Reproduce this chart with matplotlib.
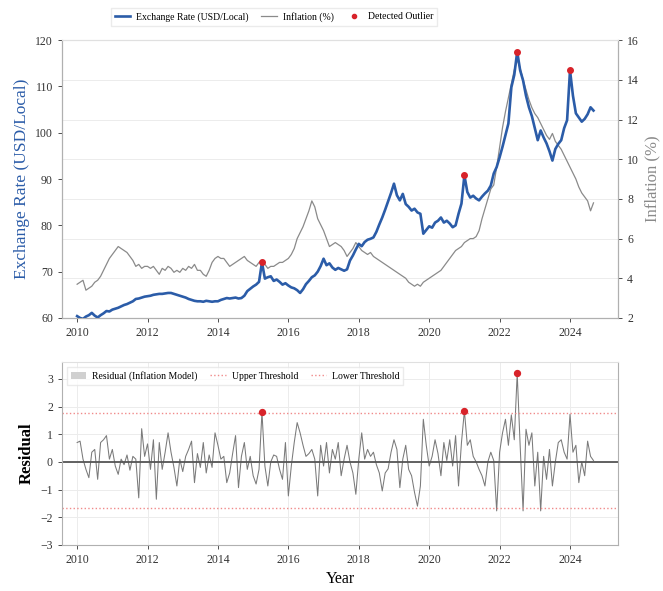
import numpy as np
import matplotlib
matplotlib.use("Agg")
import matplotlib.pyplot as plt
from matplotlib.patches import Patch
from matplotlib.lines import Line2D

plt.rcParams['font.family'] = ['Liberation Serif', 'DejaVu Serif']

# monthly series, Jan 2010 .. Sep 2024
start_year = 2010
exchange_rate = [
    60.4, 60.0, 59.8, 60.3, 60.6, 61.1, 60.5, 60.1, 60.6, 61.0, 61.5, 61.4,
    61.8, 62.0, 62.2, 62.5, 62.8, 63.0, 63.3, 63.6, 64.1, 64.2, 64.4, 64.6,
    64.7, 64.8, 65.0, 65.1, 65.2, 65.2, 65.3, 65.4, 65.4, 65.2, 65.0, 64.8,
    64.6, 64.4, 64.1, 63.9, 63.7, 63.6, 63.6, 63.5, 63.7, 63.6, 63.5, 63.6,
    63.6, 63.9, 64.1, 64.3, 64.2, 64.3, 64.4, 64.2, 64.3, 64.8, 65.8, 66.3,
    66.8, 67.2, 67.8, 72.0, 68.5, 68.8, 69.0, 68.0, 68.3, 67.8, 67.2, 67.5,
    67.0, 66.6, 66.4, 66.0, 65.4, 66.2, 67.3, 68.0, 68.8, 69.2, 70.0, 71.2,
    72.8, 71.4, 71.8, 70.9, 70.4, 70.8, 70.5, 70.2, 70.5, 72.4, 73.5, 74.8,
    76.0, 75.5, 76.4, 76.9, 77.1, 77.4, 78.6, 80.2, 81.7, 83.4, 85.2, 87.0,
    89.0, 86.5, 85.4, 86.8, 84.6, 84.0, 83.2, 83.6, 82.8, 82.5, 78.2, 79.0,
    79.8, 79.5, 80.6, 81.0, 81.7, 80.6, 81.0, 80.4, 79.6, 80.0, 82.5, 84.7,
    90.8, 87.2, 86.0, 86.4, 85.8, 85.4, 86.2, 86.9, 87.5, 88.6, 91.2, 92.6,
    94.7, 97.0, 99.5, 102.0, 109.8, 112.5, 117.5, 113.5, 111.3, 108.0, 105.5, 103.6,
    101.0, 98.4, 100.5, 99.0, 97.7, 96.0, 94.0, 96.5, 97.6, 98.4, 101.0, 102.7,
    113.5, 108.0, 104.2, 103.3, 102.4, 103.0, 104.0, 105.5, 104.8,
]
inflation = [
    3.7, 3.8, 3.9, 3.4, 3.5, 3.6, 3.8, 3.9, 4.1, 4.4, 4.7, 5.0,
    5.2, 5.4, 5.6, 5.5, 5.4, 5.3, 5.1, 4.9, 4.6, 4.7, 4.5, 4.6,
    4.6, 4.5, 4.6, 4.4, 4.2, 4.5, 4.4, 4.6, 4.5, 4.3, 4.4, 4.3,
    4.5, 4.4, 4.6, 4.5, 4.7, 4.4, 4.4, 4.2, 4.1, 4.4, 4.8, 5.0,
    5.1, 5.0, 5.0, 4.8, 4.6, 4.7, 4.8, 4.9, 5.0, 5.1, 4.9, 4.8,
    4.7, 4.6, 4.8, 4.9, 4.7, 4.5, 4.6, 4.6, 4.7, 4.8, 4.8, 4.9,
    5.0, 5.2, 5.5, 6.0, 6.3, 6.6, 7.0, 7.4, 7.9, 7.6, 7.0, 6.7,
    6.4, 6.0, 5.6, 5.7, 5.8, 5.7, 5.6, 5.4, 5.1, 5.3, 5.5, 5.8,
    5.6, 5.4, 5.3, 5.2, 5.3, 5.1, 5.0, 4.9, 4.8, 4.7, 4.6, 4.5,
    4.4, 4.3, 4.2, 4.1, 4.0, 3.8, 3.7, 3.6, 3.7, 3.6, 3.8, 3.9,
    4.0, 4.1, 4.2, 4.3, 4.4, 4.6, 4.8, 5.0, 5.2, 5.4, 5.5, 5.6,
    5.8, 5.9, 6.0, 6.0, 6.1, 6.4, 7.0, 7.5, 8.0, 8.5, 8.7, 9.6,
    10.6, 11.6, 12.4, 13.1, 13.8, 14.5, 15.0, 14.6, 14.0, 13.5, 13.0, 12.6,
    12.3, 12.1, 11.8, 11.5, 11.2, 11.0, 11.3, 10.9, 10.7, 10.5, 10.2, 9.9,
    9.6, 9.3, 9.0, 8.6, 8.3, 8.1, 7.9, 7.4, 7.8,
]
residual = [
    0.70, 0.75, 0.10, -0.27, -0.57, 0.35, 0.45, -0.63, 0.70, 0.80, 0.95, 0.10,
    0.45, -0.15, -0.45, 0.10, -0.10, 0.25, -0.30, 0.20, 0.10, -1.30, 1.20, 0.20,
    0.65, -0.27, 0.80, -1.35, 0.70, -0.27, 0.35, 1.05, 0.35, -0.20, -0.87, 0.10,
    -0.35, 0.20, 0.45, 0.75, -0.75, 0.30, -0.20, 0.70, -0.40, 0.25, -0.20, 1.05,
    0.60, 0.10, 0.20, -0.75, -0.40, 0.30, 0.95, -0.93, 0.20, 0.70, -0.27, 0.20,
    -0.50, -0.80, -0.27, 1.80, -0.15, -0.87, 0.00, 0.25, 0.20, -0.27, -0.63, 0.70,
    -1.23, -0.15, 0.70, 1.42, 1.05, 0.60, 0.20, 0.30, 0.45, 0.10, -1.23, 0.60,
    -0.15, 0.70, -0.40, 0.45, 0.10, 0.70, -0.50, 0.10, 0.60, 0.00, -0.40, -1.17,
    0.10, 1.05, 0.10, 0.45, 0.20, 0.35, -0.10, -0.40, -1.05, -0.40, -0.25, 0.35,
    0.80, 0.45, -0.93, 0.10, 0.60, -0.27, -0.50, -1.10, -1.60, -0.87, 1.54, 0.60,
    -0.15, 0.20, 0.80, 0.30, -0.50, 0.70, 0.05, 0.80, -0.15, 0.95, -0.87, 0.70,
    1.85, 0.60, 0.80, 0.20, 0.00, -0.27, -0.50, -0.87, 0.00, 0.35, 0.05, -1.77,
    0.35, 1.05, 1.54, 0.60, 1.70, 0.80, 3.20, 0.60, -1.77, 1.18, 0.60, 1.05,
    -0.87, 0.35, -1.77, 0.20, -0.63, 0.45, -0.87, 0.00, 0.70, 0.80, 0.35, 0.10,
    1.72, 0.35, 0.60, -0.75, 0.00, -0.50, 0.75, 0.20, 0.05,
]
outlier_idx = [63, 132, 150, 168]
upper_thr = 1.76
lower_thr = -1.66

x = start_year + np.arange(len(exchange_rate)) / 12.0
er = np.array(exchange_rate)
inf = np.array(inflation)
res = np.array(residual)

blue = '#2b5ca8'
grey = '#8a8a8a'
red = '#d8232a'
thr_col = '#f08a8a'

fig = plt.figure(figsize=(6.63, 5.91), dpi=100)
ax1 = fig.add_axes([0.0935, 0.462, 0.839, 0.470])
ax2 = ax1.twinx()
ax3 = fig.add_axes([0.0935, 0.078, 0.839, 0.309])

# top: exchange rate vs inflation
ax1.plot(x, er, color=blue, lw=1.9, zorder=3)
ax2.plot(x, inf, color=grey, lw=0.9, zorder=2)
ax1.scatter(x[outlier_idx], er[outlier_idx], s=16, color=red, zorder=5)
ax1.set_zorder(ax2.get_zorder() + 1)
ax1.patch.set_visible(False)

ax1.set_xlim(2009.57, 2025.37)
ax1.set_ylim(60, 120)
ax2.set_ylim(2, 16)
ax1.set_xticks(range(2010, 2025, 2))
ax1.set_yticks(range(60, 121, 10))
ax2.set_yticks(range(2, 17, 2))
ax1.set_ylabel('Exchange Rate (USD/Local)', color=blue, fontsize=12.5)
ax2.set_ylabel('Inflation (%)', color=grey, fontsize=12)
ax2.grid(True, color='#ececec', lw=0.7)
ax2.set_axisbelow(True)

handles = [Line2D([], [], color=blue, lw=1.9),
           Line2D([], [], color=grey, lw=0.9),
           Line2D([], [], color=red, marker='o', ms=3, ls='none')]
fig.legend(handles, ['Exchange Rate (USD/Local)', 'Inflation (%)', 'Detected Outlier'],
           loc='upper left', bbox_to_anchor=(0.16, 0.995), ncol=3, fontsize=7,
           frameon=True, edgecolor='#e6e6e6', fancybox=False, handlelength=1.6,
           columnspacing=1.3, handletextpad=0.6)

# bottom: residuals of the inflation model
ax3.plot(x, res, color='#7a7a7a', lw=0.75)
ax3.axhline(0, color='#555555', lw=1.3)
ax3.axhline(upper_thr, color=thr_col, lw=1.0, ls=':')
ax3.axhline(lower_thr, color=thr_col, lw=1.0, ls=':')
hi = res > upper_thr
ax3.scatter(x[hi], res[hi], s=18, color=red, zorder=5)
ax3.set_xlim(2009.57, 2025.37)
ax3.set_ylim(-3, 3.6)
ax3.set_xticks(range(2010, 2025, 2))
ax3.set_yticks(range(-3, 4))
ax3.set_ylabel('Residual', fontsize=12, fontweight='bold')
ax3.set_xlabel('Year', fontsize=11.5)
ax3.grid(True, color='#ececec', lw=0.7)
ax3.set_axisbelow(True)

res_handles = [Patch(facecolor='#d0d0d0', edgecolor='none'),
               Line2D([], [], color=thr_col, lw=1.0, ls=':'),
               Line2D([], [], color=thr_col, lw=1.0, ls=':')]
ax3.legend(res_handles, ['Residual (Inflation Model)', 'Upper Threshold', 'Lower Threshold'],
           loc='upper left', ncol=3, fontsize=7, frameon=True, edgecolor='#e6e6e6',
           fancybox=False, handlelength=1.6, columnspacing=1.3, handletextpad=0.6)

for ax in (ax1, ax2, ax3):
    ax.tick_params(labelsize=8.5, colors='#333333', length=3, width=0.6)
    for sp in ax.spines.values():
        sp.set_color('#b0b0b0')
        sp.set_linewidth(0.8)
for ax in (ax1, ax2, ax3):
    ax.spines['top'].set_color('#e0e0e0')

fig.savefig('out.png', dpi=100)
